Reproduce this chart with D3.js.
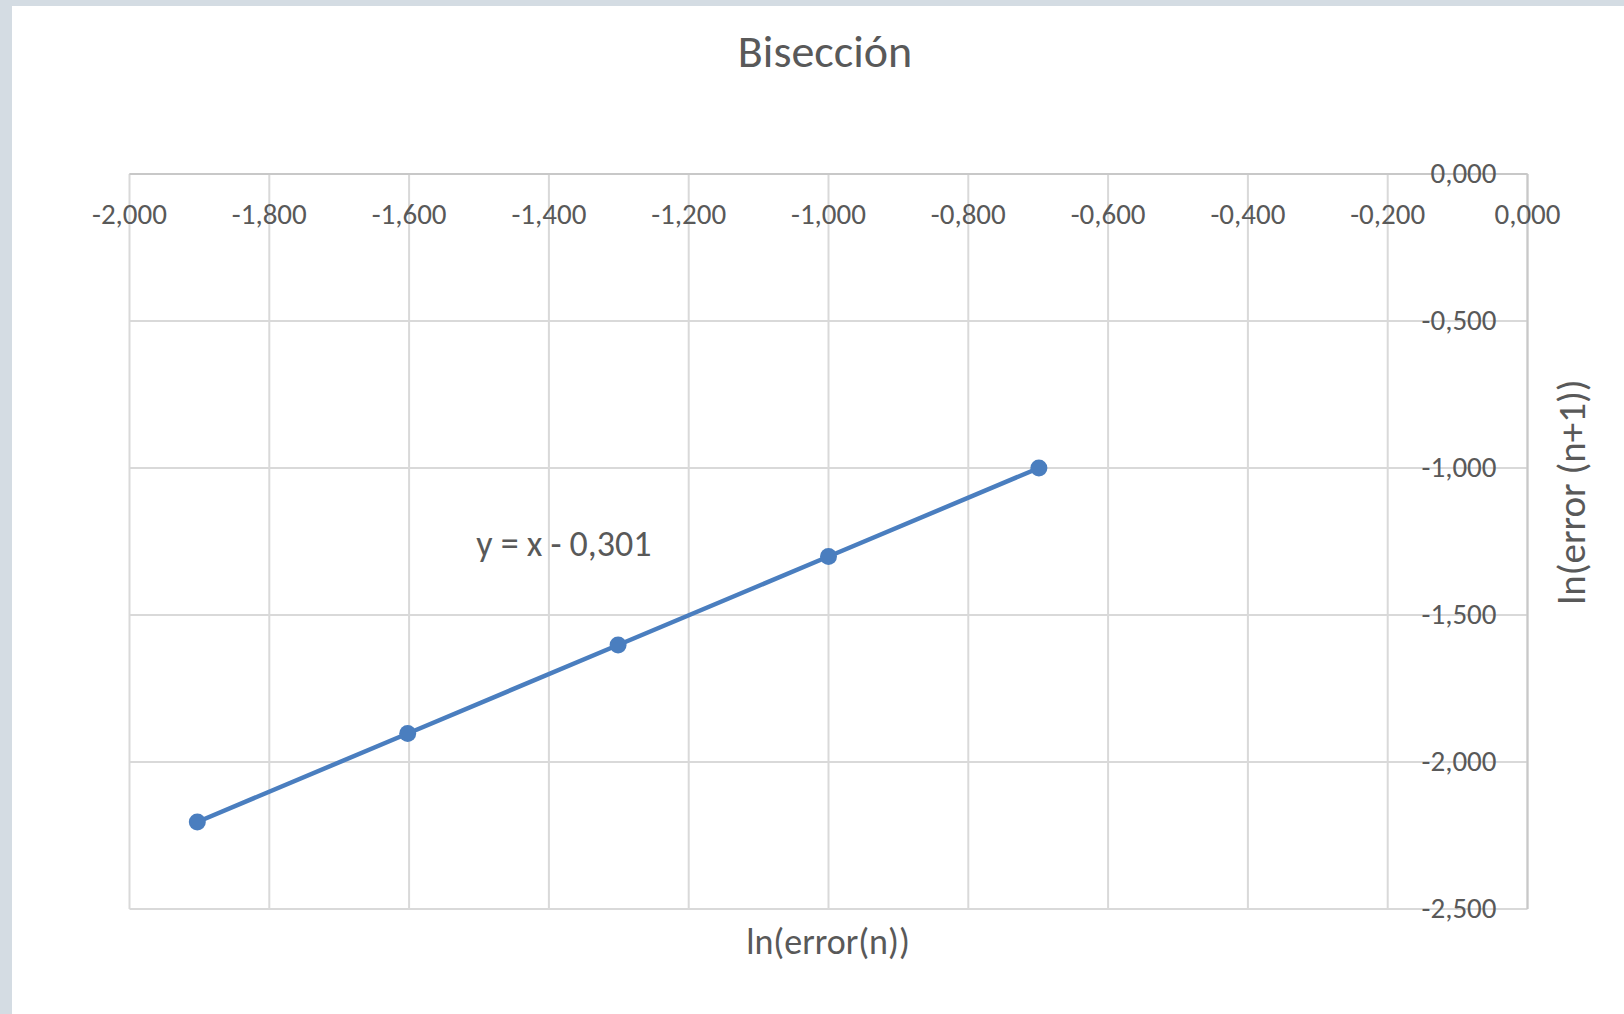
<!DOCTYPE html>
<html>
<head>
<meta charset="utf-8">
<script src="https://cdn.jsdelivr.net/npm/d3@7"></script>
<style>
  body { margin: 0; background: #d4dce3; }
  svg { display: block; }
  text { font-family: Carlito, "Liberation Sans Narrow", "DejaVu Sans Condensed", sans-serif; fill: #595959; }
</style>
</head>
<body>
<svg width="1624" height="1014"></svg>
<script>
// ln(error(n)) vs ln(error(n+1)) for bisection
const xValues = [-1.903, -1.602, -1.301, -1.0, -0.699];
const yValues = [-2.204, -1.903, -1.602, -1.301, -1.0];
const xTicks = [-2, -1.8, -1.6, -1.4, -1.2, -1, -0.8, -0.6, -0.4, -0.2, 0];
const yTicks = [0, -0.5, -1, -1.5, -2, -2.5];

const points = xValues.map((x, i) => ({ x, y: yValues[i] }));

const svg = d3.select("svg");
const fmt = (v) => d3.format(".3f")(v).replace("−", "-").replace(".", ",");

// white card over the grey page
svg.append("rect")
  .attr("x", 12).attr("y", 6)
  .attr("width", 1624 - 12).attr("height", 1014 - 6)
  .attr("fill", "#fff");

const x = d3.scaleLinear().domain([-2, 0]).range([129.5, 1527.5]);
const y = d3.scaleLinear().domain([0, -2.5]).range([174, 909]);

// gridlines
const grid = svg.append("g").attr("stroke", "#d9d9d9").attr("stroke-width", 2);
grid.selectAll(".vx")
  .data(xTicks)
  .enter()
  .append("line")
  .attr("x1", (d) => x(d)).attr("x2", (d) => x(d))
  .attr("y1", y(0)).attr("y2", y(-2.5));
grid.selectAll(".hy")
  .data(yTicks)
  .enter()
  .append("line")
  .attr("x1", x(-2)).attr("x2", x(0))
  .attr("y1", (d) => y(d)).attr("y2", (d) => y(d));

// axis lines (x axis sits at y=0, y axis at x=0)
svg.append("line")
  .attr("x1", x(-2)).attr("x2", x(0)).attr("y1", y(0)).attr("y2", y(0))
  .attr("stroke", "#c8c8c8").attr("stroke-width", 2);
svg.append("line")
  .attr("x1", x(0)).attr("x2", x(0)).attr("y1", y(0)).attr("y2", y(-2.5))
  .attr("stroke", "#c8c8c8").attr("stroke-width", 2);

// tick labels
svg.append("g").selectAll("text")
  .data(xTicks)
  .enter()
  .append("text")
  .attr("x", (d) => x(d))
  .attr("y", y(0) + 50)
  .attr("text-anchor", "middle")
  .attr("font-size", 29)
  .text((d) => fmt(d));

svg.append("g").selectAll("text")
  .data(yTicks)
  .enter()
  .append("text")
  .attr("x", x(0) - 31)
  .attr("y", (d) => y(d))
  .attr("dy", "0.3em")
  .attr("text-anchor", "end")
  .attr("font-size", 29)
  .text((d) => fmt(d));

// series
const line = d3.line().x((d) => x(d.x)).y((d) => y(d.y));
svg.append("path")
  .datum(points)
  .attr("d", line)
  .attr("fill", "none")
  .attr("stroke", "#4a7ebf")
  .attr("stroke-width", 4.5);

svg.append("g").selectAll("circle")
  .data(points)
  .enter()
  .append("circle")
  .attr("cx", (d) => x(d.x))
  .attr("cy", (d) => y(d.y))
  .attr("r", 8.5)
  .attr("fill", "#4a7ebf");

// linear trendline equation
const mx = d3.mean(xValues), my = d3.mean(yValues);
const slope = d3.sum(points, (d) => (d.x - mx) * (d.y - my)) / d3.sum(points, (d) => (d.x - mx) ** 2);
const intercept = my - slope * mx;
const slopeText = Math.abs(slope - 1) < 0.0005 ? "x" : fmt(slope) + "x";
const eqText = "y = " + slopeText + (intercept < 0 ? " - " : " + ") + fmt(Math.abs(intercept));
svg.append("text")
  .attr("x", x(-1.504))
  .attr("y", y(-1.3))
  .attr("font-size", 36)
  .text(eqText);

// titles
svg.append("text")
  .attr("x", 825).attr("y", 67)
  .attr("text-anchor", "middle")
  .attr("font-size", 46)
  .text("Bisección");

svg.append("text")
  .attr("x", 828).attr("y", 954)
  .attr("text-anchor", "middle")
  .attr("font-size", 36)
  .text("ln(error(n))");

svg.append("text")
  .attr("transform", "translate(1585, 492) rotate(-90)")
  .attr("text-anchor", "middle")
  .attr("font-size", 39)
  .text("ln(error (n+1))");
</script>
</body>
</html>
